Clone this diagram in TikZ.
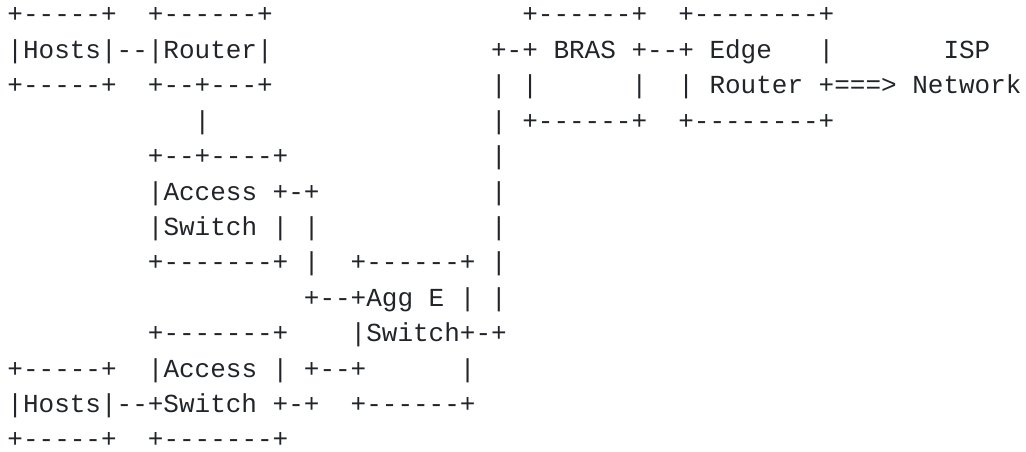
\documentclass[tikz,border=0pt]{standalone}
\usepackage{fontspec}
\setmonofont{Liberation Mono}
\definecolor{ink}{HTML}{212529}
\tikzset{
  asc/.style={anchor=base west, inner sep=0pt, outer sep=0pt, text=ink,
              font=\ttfamily\fontsize{26pt}{26pt}\selectfont}
}
% row, column -> position (1px = 1pt)
\newcommand\cw{15.6}
\newcommand\seg[4]{\node[asc] (r#1c#2#3) at ({7.5pt+#2*\cw pt},{-23pt-(#1-1)*35.4pt}) {#4};}
\begin{document}
\begin{tikzpicture}
\useasboundingbox (0,0) rectangle (1026pt,-452pt);
% row 1
\seg{1}{0}{}{+-----+}
\seg{1}{9}{}{+------+}
\seg{1}{33}{}{+------+}
\seg{1}{43}{}{+--------+}
% row 2
\seg{2}{0}{}{|Hosts|--|Router|}
\seg{2}{31}{}{+-+ BRAS +--+ Edge}
\seg{2}{52}{}{|}
\seg{2}{60}{}{ISP}
% row 3
\seg{3}{0}{}{+-----+}
\seg{3}{9}{}{+--+---+}
\seg{3}{31}{}{| |}
\seg{3}{40}{}{|}
\seg{3}{43}{}{| Router +===> Network}
% row 4
\seg{4}{12}{}{|}
\seg{4}{31}{}{| +------+}
\seg{4}{43}{}{+--------+}
% row 5
\seg{5}{9}{}{+--+----+}
\seg{5}{31}{}{|}
% row 6
\seg{6}{9}{}{|Access +-+}
\seg{6}{31}{}{|}
% row 7
\seg{7}{9}{}{|Switch | |}
\seg{7}{31}{}{|}
% row 8
\seg{8}{9}{}{+-------+ |}
\seg{8}{22}{}{+------+ |}
% row 9
\seg{9}{19}{}{+--+Agg E | |}
% row 10
\seg{10}{9}{}{+-------+}
\seg{10}{22}{}{|Switch+-+}
% row 11
\seg{11}{0}{}{+-----+}
\seg{11}{9}{}{|Access | +--+}
\seg{11}{29}{}{|}
% row 12
\seg{12}{0}{}{|Hosts|--+Switch +-+}
\seg{12}{22}{}{+------+}
% row 13
\seg{13}{0}{}{+-----+}
\seg{13}{9}{}{+-------+}
\end{tikzpicture}
\end{document}
